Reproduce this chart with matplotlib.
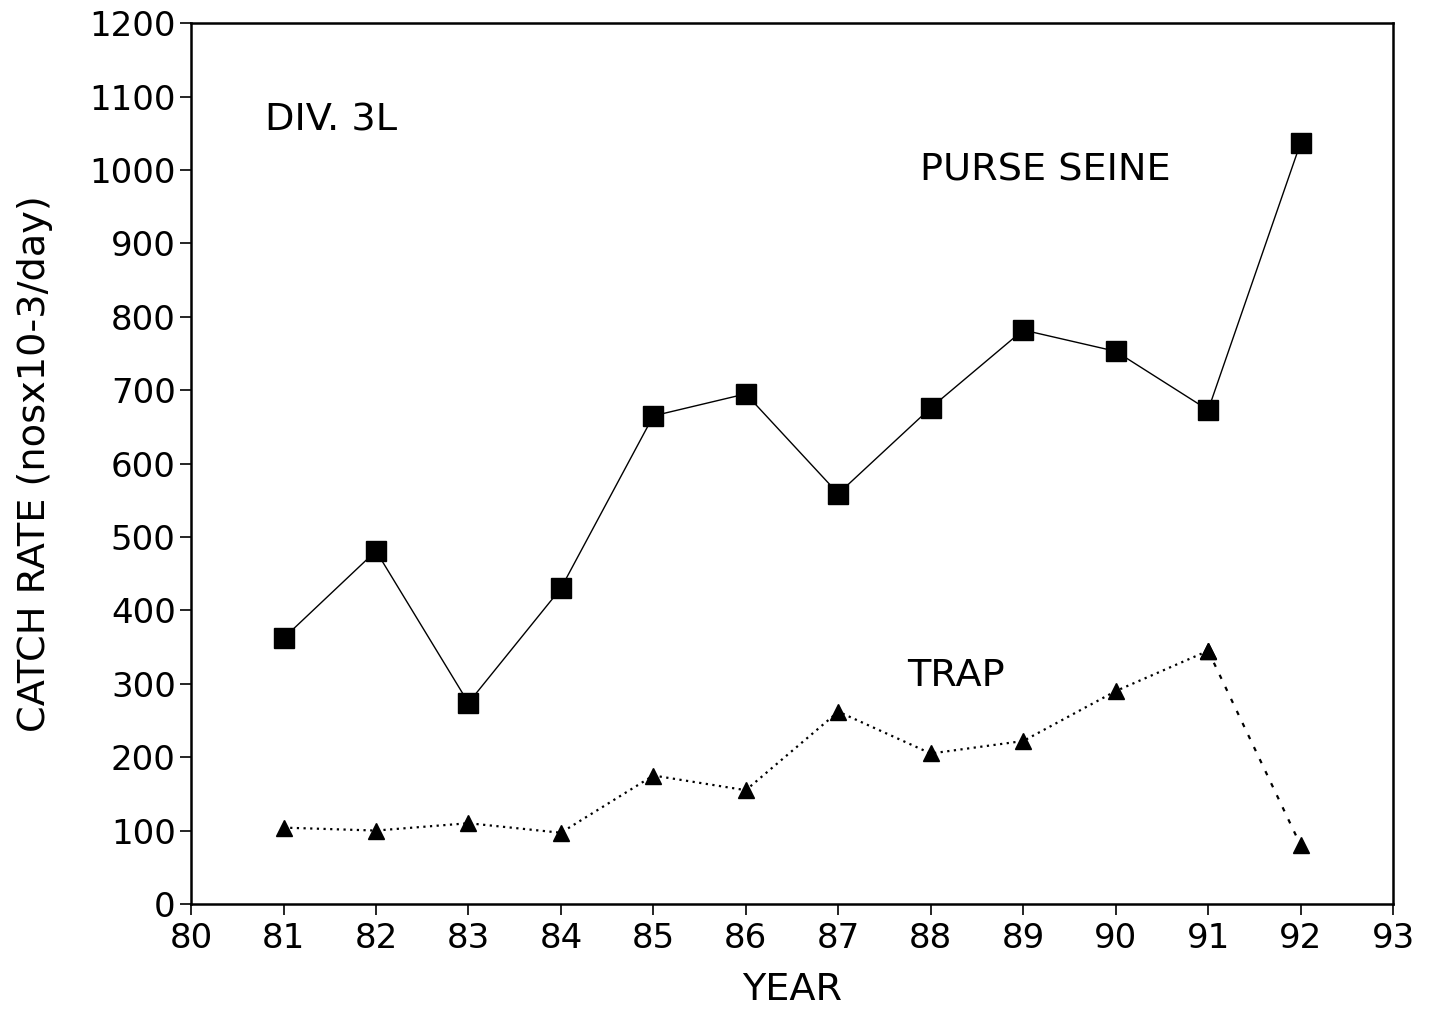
import matplotlib
matplotlib.use("Agg")
import matplotlib.pyplot as plt

years = [81, 82, 83, 84, 85, 86, 87, 88, 89, 90, 91, 92]
purse_seine = [362, 481, 274, 430, 665, 695, 559, 676, 782, 753, 673, 1037]
trap = [104, 100, 110, 97, 175, 155, 262, 205, 222, 290, 345, 80]
xticks = list(range(80, 94))
yticks = list(range(0, 1201, 100))

plt.rcParams['font.family'] = ['DejaVu Sans']

fig = plt.figure(figsize=(14.31, 10.10), dpi=100)
ax = fig.add_axes([0.1335, 0.105, 0.84, 0.872])

ax.plot(years, purse_seine, color='black', lw=1.0, marker='s', ms=14, zorder=3)
ax.plot(years[:-1], trap[:-1], color='black', lw=1.6, ls=(0, (1, 2)), marker='^', ms=12, zorder=3)
ax.plot(years[-2:], trap[-2:], color='black', lw=1.6, ls=(0, (2, 4)), marker='^', ms=12, zorder=3)

ax.set_xlim(80, 93)
ax.set_ylim(0, 1200)
ax.set_xticks(xticks)
ax.set_yticks(yticks)
ax.tick_params(direction='out', length=8, width=1.2, labelsize=24.5)
ax.tick_params(axis='x', pad=5)
ax.tick_params(axis='y', pad=3)
for s in ax.spines.values():
    s.set_linewidth(1.8)

ax.set_xlabel('YEAR', fontsize=27.5, labelpad=12)
ax.set_ylabel('CATCH RATE (nosx10-3/day)', fontsize=27.5, labelpad=26)

ax.text(80.8, 1068, 'DIV. 3L', fontsize=27.5, va='center', ha='left')
ax.text(87.88, 1000, 'PURSE SEINE', fontsize=27.5, va='center', ha='left')
ax.text(87.74, 311, 'TRAP', fontsize=27.5, va='center', ha='left')

fig.savefig('out.png', dpi=100)
